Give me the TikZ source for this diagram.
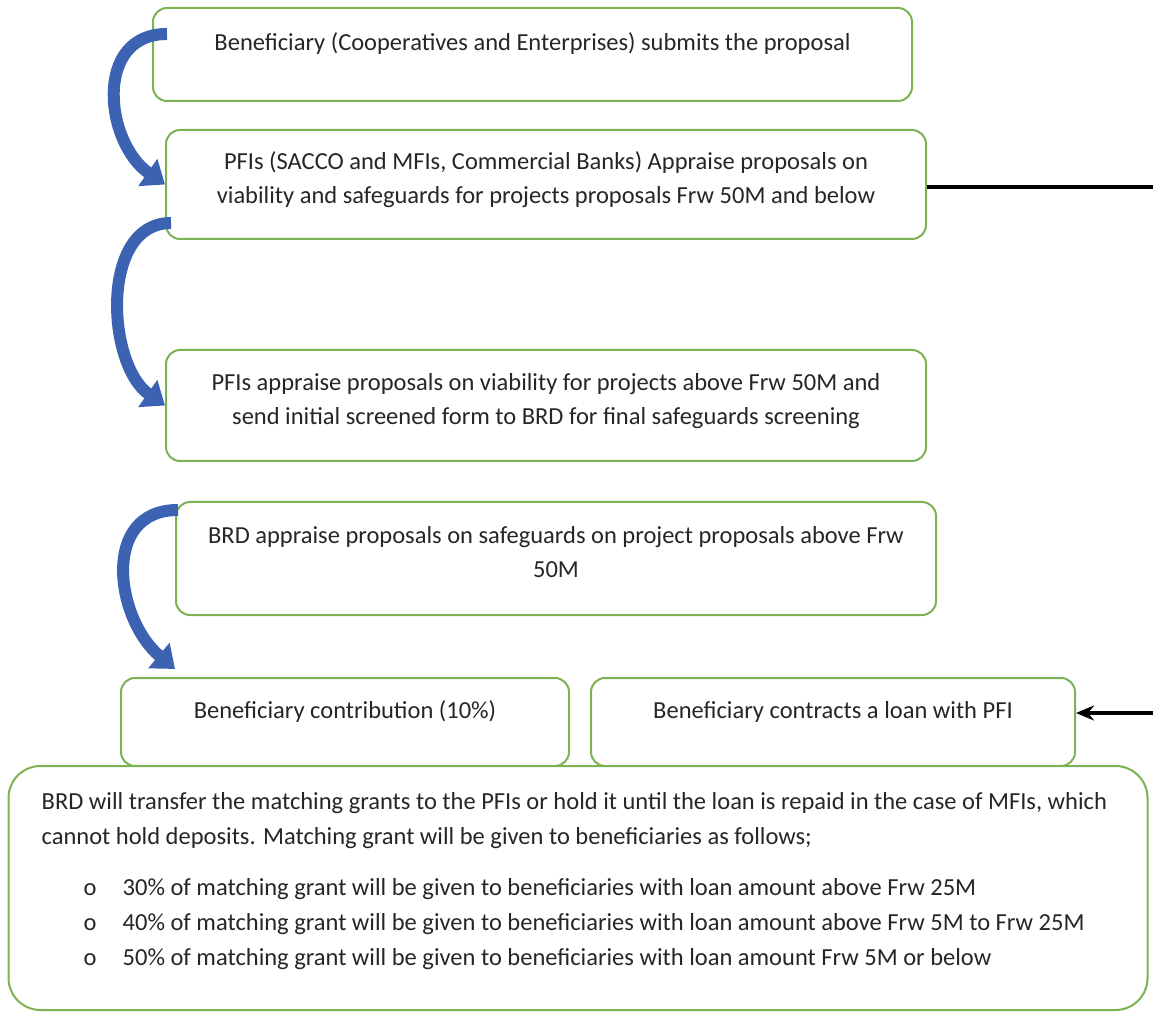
\documentclass[tikz,border=0pt]{standalone}
\usepackage{fontspec}
\setmainfont{Carlito}
\usetikzlibrary{arrows.meta,calc,positioning}
\definecolor{boxgreen}{RGB}{122,178,84}
\definecolor{arrblue}{RGB}{59,99,178}
\definecolor{txtgray}{RGB}{38,38,38}
\tikzset{prbox/.style={draw=boxgreen,line width=2pt,rounded corners=14pt,fill=white,inner sep=0pt}}
\tikzset{prtxt/.style={align=center,inner sep=0pt,text=txtgray,font=\fontsize{24.5}{34}\selectfont}}
\tikzset{blarr/.style={draw=arrblue,line width=12pt,-{Triangle[width=32pt,length=21pt]}}}
\tikzset{ln/.style={line width=3.2pt,black}}
\newcommand{\blt}{\hspace*{42pt}\makebox[39pt][l]{o}}

\begin{document}
\begin{tikzpicture}[x=1pt,y=1pt]
\useasboundingbox (0,0) rectangle (1153,1013);
\node [prbox,minimum width=759pt,minimum height=93pt] at (532.5,958.5) (b1) {};
\node [prbox,minimum width=760pt,minimum height=109pt] at (546,828.5) (b2) {};
\node [prbox,minimum width=760pt,minimum height=111pt] at (546,607.5) (b3) {};
\node [prbox,minimum width=760pt,minimum height=113pt] at (556,454.5) (b4) {};
\node [prbox,minimum width=448pt,minimum height=88pt] at (345,291) (b5) {};
\node [prbox,minimum width=484pt,minimum height=88pt] at (833,291) (b6) {};
\node [prbox,rounded corners=32pt,minimum width=1139pt,minimum height=244pt] at (578,125) (b7) {};

\node [prtxt] at ($(b1.north)+(0,-37)$) (t1) {Beneficiary (Cooperatives and Enterprises) submits the proposal};
\node [prtxt] at ($(b2.north)+(0,-51)$) (t2) {PFIs (SACCO and MFIs, Commercial Banks) Appraise proposals on\\viability and safeguards for projects proposals Frw 50M and below};
\node [prtxt] at ($(b3.north)+(0,-52)$) (t3) {PFIs appraise proposals on viability for projects above Frw 50M and\\send initial screened form to BRD for final safeguards screening};
\node [prtxt] at ($(b4.north)+(0,-51)$) (t4) {BRD appraise proposals on safeguards on project proposals above Frw\\50M};
\node [prtxt] at ($(b5.north)+(0,-35)$) (t5) {Beneficiary contribution (10\%)};
\node [prtxt] at ($(b6.north)+(0,-35)$) (t6) {Beneficiary contracts a loan with PFI};
\node [prtxt,align=left,anchor=north west,font=\fontsize{24.5}{35}\selectfont] at ($(b7.north west)+(34,-27)$) (t7) {BRD will transfer the matching grants to the PFIs or hold it until the loan is repaid in the case of MFIs, which\\
cannot hold deposits. Matching grant will be given to beneficiaries as follows;\\[16pt]
\blt 30\% of matching grant will be given to beneficiaries with loan amount above Frw 25M\\
\blt 40\% of matching grant will be given to beneficiaries with loan amount above Frw 5M to Frw 25M\\
\blt 50\% of matching grant will be given to beneficiaries with loan amount Frw 5M or below};

\draw [blarr] ($(b1.north west)+(15,-27)$) to[out=180,in=145,looseness=1.25] (b2.west);
\draw [blarr] ($(b2.south west)+(6,17)$) to[out=180,in=145,looseness=1] (b3.west);
\draw [blarr] ($(b4.north west)+(3,-9)$) to[out=180,in=140,looseness=1.25] ($(b5.north west)+(55,8)$);

\coordinate (e1) at (1153,826);
\coordinate (e2) at (1153,300);
\draw [ln] (b2.east |- e1) -- (e1);
\draw [ln,-{Stealth[length=18pt,width=15pt]}] (e2) -- (e2 -| b6.east);
\end{tikzpicture}
\end{document}
